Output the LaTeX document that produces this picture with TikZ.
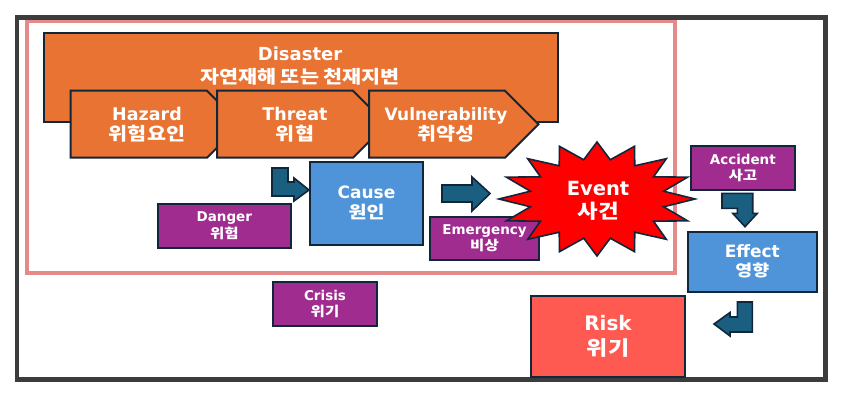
\documentclass[tikz,border=0pt]{standalone}
\usepackage{fontspec}
\setmainfont{DejaVu Sans}
\newfontfamily\kr{Noto Sans CJK KR}[FakeStretch=1.15]
\usetikzlibrary{shapes.geometric}
\definecolor{orng}{HTML}{E87333}
\definecolor{navy}{HTML}{10263A}
\definecolor{bluebox}{HTML}{4F94D8}
\definecolor{purp}{HTML}{A02C90}
\definecolor{teal}{HTML}{1A5E80}
\definecolor{riskred}{HTML}{FF5A52}
\definecolor{framegray}{HTML}{3C3C3C}
\definecolor{pinkframe}{HTML}{E48A8A}
\tikzset{
  box/.style={draw=navy, line width=2pt, rectangle, inner sep=0pt, text=white, align=center, font=\bfseries},
  pent/.style={draw=navy, line width=2pt, fill=orng, line join=miter},
  barrow/.style={draw=navy, line width=1.6pt, fill=teal, line join=miter},
  txt/.style={text=white, align=center, font=\bfseries, inner sep=0pt},
  smallbox/.style={box, fill=purp, font=\bfseries\fontsize{13.5}{16.5}\selectfont},
}
\begin{document}
\begin{tikzpicture}[x=1pt,y=-1pt]
\useasboundingbox (0,0) rectangle (850,396);
\fill[white] (0,0) rectangle (850,396);
% outer frame
\draw[framegray, line width=4.5pt] (17,17.5) rectangle (825.5,379.5);
% red frame
\draw[pinkframe, line width=3.5pt] (27,21.5) rectangle (675,273);
% Disaster
\node[box, fill=orng, minimum width=514, minimum height=89, anchor=north west] (disaster) at (43,32) {};
\node[txt, font=\bfseries\fontsize{18}{23}\selectfont] (disastertxt) at (300,66.5) {Disaster\\{\kr 자연재해 또는 천재지변}};
% pentagons
\draw[pent] (70.7,90.7) -- (207,90.7) -- (240.5,124.2) -- (207,157.7) -- (70.7,157.7) -- cycle;
\node[txt, font=\bfseries\fontsize{17.5}{20}\selectfont] (hazard) at (147,125) {Hazard\\{\kr\fontsize{18}{20}\selectfont 위험요인}};
\draw[pent] (217,90.7) -- (353,90.7) -- (386.5,124.2) -- (353,157.7) -- (217,157.7) -- cycle;
\node[txt, font=\bfseries\fontsize{17.5}{20}\selectfont] (threat) at (295,125) {Threat\\{\kr\fontsize{18}{20}\selectfont 위협}};
\draw[pent] (369,90.7) -- (505,90.7) -- (538.5,124.2) -- (505,157.7) -- (369,157.7) -- cycle;
\node[txt, font=\bfseries\fontsize{17}{20}\selectfont] (vuln) at (446,125) {Vulnerability\\{\kr\fontsize{18}{20}\selectfont 취약성}};
% Cause arrow
\draw[barrow] (272,168) -- (288,168) -- (288,182) -- (294,182) -- (294,178) -- (309,190) -- (294,201) -- (294,196) -- (272,196) -- cycle;
% Cause
\node[box, fill=bluebox, minimum width=113, minimum height=83, font=\bfseries\fontsize{17}{20}\selectfont] (cause) at (366.5,203.3) {Cause\\{\kr 원인}};
% Danger, Crisis
\node[smallbox, minimum width=133, minimum height=44] (danger) at (224.3,225.9) {Danger\\{\kr 위험}};
\node[smallbox, minimum width=104.5, minimum height=44] (crisis) at (325,303.8) {Crisis\\{\kr 위기}};
% Emergency
\node[smallbox, minimum width=109, minimum height=43.5] (emerg) at (484.5,238.4) {Emergency\\{\kr 비상}};
% Cause -> Event arrow
\draw[barrow] (442,185) -- (472,185) -- (472,177) -- (490,193.5) -- (472,211) -- (472,202) -- (442,202) -- cycle;
% Event star
\draw[draw=navy, line width=1.6pt, fill=red, line join=miter]
  plot[samples at={0,...,31}, variable=\i] ({597 + (98 - 30*mod(\i,2))*cos(90 + \i*11.25)}, {199 - (57 - 17*mod(\i,2))*sin(90 + \i*11.25)}) -- cycle;
\node[txt, font=\bfseries\fontsize{19.5}{23}\selectfont] (event) at (598,200.5) {Event\\{\kr 사건}};
% Accident
\node[smallbox, minimum width=104.5, minimum height=44.5] (accident) at (742.8,167.9) {Accident\\{\kr 사고}};
% Accident -> Effect arrow
\draw[barrow] (722,193.3) -- (752.7,193.3) -- (752.7,213.3) -- (757.3,213.3) -- (745,226.7) -- (732.7,213.3) -- (737.3,213.3) -- (737.3,208.3) -- (722,208.3) -- cycle;
% Effect
\node[box, fill=bluebox, minimum width=128.5, minimum height=60, font=\bfseries\fontsize{17}{19}\selectfont] (effect) at (752.3,261.7) {Effect\\{\kr\fontsize{16}{19}\selectfont 영향}};
% Effect -> Risk arrow
\draw[barrow] (737.3,302) -- (752.3,302) -- (752.3,332) -- (730,332) -- (730,336) -- (714,324) -- (730,312.5) -- (730,317) -- (737.3,317) -- cycle;
% Risk
\node[box, fill=riskred, minimum width=154, minimum height=80.5, font=\bfseries\fontsize{20}{25}\selectfont] (risk) at (608,336.3) {Risk\\{\kr 위기}};
\end{tikzpicture}
\end{document}
